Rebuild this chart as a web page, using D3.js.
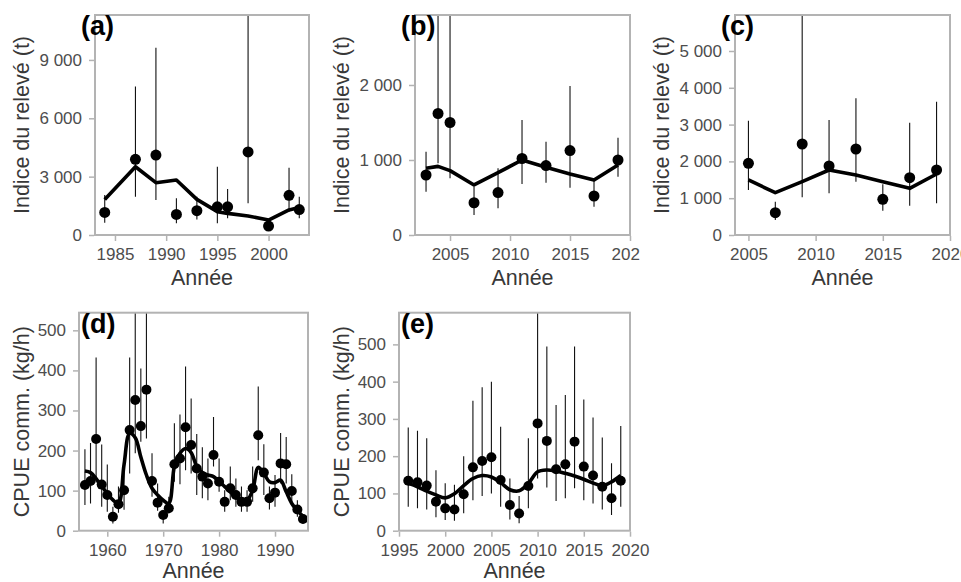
<!DOCTYPE html>
<html>
<head>
<meta charset="utf-8">
<script src="https://cdn.jsdelivr.net/npm/d3@7"></script>
<style>
  body { margin: 0; background: #fff; }
  text { font-family: "Liberation Sans", Arial, Helvetica, sans-serif; }
</style>
</head>
<body>
<svg id="fig" width="961" height="582"></svg>
<script>
// ---- (a) survey index, early series (t)
const aYears = [1984, 1987, 1989, 1991, 1993, 1995, 1996, 1998, 2000, 2002, 2003];
const aIndex = [1160, 3890, 4110, 1060, 1250, 1450, 1450, 4270, 460, 2040, 1310];
const aLow   = [630, 1970, 1800, 600, 800, 600, 860, 1630, 250, 1200, 860];
const aHigh  = [2060, 7630, 9630, 1890, 1970, 3510, 2370, 12500, 780, 3460, 1970];
const aFit   = [1830, 3510, 2690, 2830, 1830, 1200, 1110, 980, 770, 1290, 1420];
const aXTicks = [1985, 1990, 1995, 2000];
const aYTicks = [0, 3000, 6000, 9000];

// ---- (b) survey index, recent series (t)
const bYears = [2003, 2004, 2005, 2007, 2009, 2011, 2013, 2015, 2017, 2019];
const bIndex = [800, 1620, 1500, 430, 565, 1020, 925, 1125, 520, 1000];
const bLow   = [578, 956, 756, 267, 356, 680, 698, 631, 378, 778];
const bHigh  = [1111, 3400, 3700, 644, 889, 1533, 1244, 1987, 733, 1298];
const bFit   = [889, 915, 858, 667, 831, 1000, 902, 813, 733, 933];
const bXTicks = [2005, 2010, 2015, 2020];
const bYTicks = [0, 1000, 2000];

// ---- (c) survey index, second recent series (t)
const cYears = [2005, 2007, 2009, 2011, 2013, 2015, 2017, 2019];
const cIndex = [1947, 607, 2473, 1875, 2337, 969, 1558, 1766];
const cLow   = [1223, 408, 1024, 1132, 1449, 661, 797, 860];
const cHigh  = [3107, 906, 6600, 3125, 3714, 1377, 3052, 3623];
const cFit   = [1495, 1150, 1449, 1766, 1630, 1449, 1268, 1658];
const cXTicks = [2005, 2010, 2015, 2020];
const cYTicks = [0, 1000, 2000, 3000, 4000, 5000];

// ---- (d) commercial CPUE, 1956-1995 (kg/h)
const dYears = [1956, 1957, 1958, 1959, 1960, 1961, 1962, 1963, 1964, 1965,
                1966, 1967, 1968, 1969, 1970, 1971, 1972, 1973, 1974, 1975,
                1976, 1977, 1978, 1979, 1980, 1981, 1982, 1983, 1984, 1985,
                1986, 1987, 1988, 1989, 1990, 1991, 1992, 1993, 1994, 1995];
const dCpue  = [114, 124, 229, 115, 89, 35, 66, 101, 251, 326,
                261, 352, 124, 70, 39, 56, 166, 180, 258, 214,
                155, 135, 118, 189, 122, 72, 106, 89, 72, 72,
                106, 238, 145, 81, 95, 168, 166, 99, 53, 29];
const dLow   = [64, 68, 120, 60, 47, 18, 45, 52, 143, 193,
                222, 230, 85, 50, 18, 43, 122, 116, 151, 143,
                89, 81, 76, 160, 97, 47, 76, 60, 47, 47,
                72, 176, 89, 53, 60, 118, 118, 70, 35, 18];
const dHigh  = [203, 219, 432, 215, 165, 60, 110, 151, 432, 640,
                405, 600, 193, 118, 52, 85, 268, 290, 410, 330,
                241, 208, 180, 284, 180, 101, 160, 130, 110, 101,
                160, 360, 216, 110, 139, 244, 234, 141, 76, 39];
const dFit   = [149, 145, 130, 111, 93, 77, 68, 165, 243, 232,
                184, 139, 106, 89, 76, 68, 160, 193, 205, 195,
                160, 145, 139, 135, 122, 110, 97, 85, 75, 76,
                101, 158, 143, 122, 120, 126, 97, 68, 50, 36];
const dXTicks = [1960, 1970, 1980, 1990];
const dYTicks = [0, 100, 200, 300, 400, 500];

// ---- (e) commercial CPUE, 1996-2019 (kg/h)
const eYears = [1996, 1997, 1998, 1999, 2000, 2001, 2002, 2003, 2004, 2005, 2006, 2007,
                2008, 2009, 2010, 2011, 2012, 2013, 2014, 2015, 2016, 2017, 2018, 2019];
const eCpue  = [134, 130, 121, 78, 60, 57, 98, 170, 187, 197, 136, 69,
                46, 120, 288, 241, 165, 178, 239, 172, 148, 118, 87, 134];
const eLow   = [64, 60, 57, 36, 29, 27, 47, 82, 93, 100, 64, 30,
                20, 60, 140, 116, 80, 87, 114, 82, 73, 57, 42, 64];
const eHigh  = [277, 268, 248, 162, 127, 123, 200, 349, 385, 400, 279, 140,
                93, 248, 640, 494, 337, 364, 494, 352, 304, 250, 181, 281];
const eFit   = [127, 118, 106, 96, 88, 99, 121, 140, 148, 144, 129, 110,
                107, 127, 158, 163, 160, 154, 147, 138, 128, 121, 131, 148];
const eXTicks = [1995, 2000, 2005, 2010, 2015, 2020];
const eYTicks = [0, 100, 200, 300, 400, 500];

const yTitleIndex = "Indice du relevé (t)";
const yTitleCpue = "CPUE comm. (kg/h)";
const xTitle = "Année";

// French number format: "3 000"
const fr = d3.formatLocale({ decimal: ",", thousands: "\u00a0", grouping: [3], currency: ["", " €"] });
const fmt = fr.format(",");

const panels = [
  { id: "a", tag: "(a)", years: aYears, est: aIndex, lo: aLow, hi: aHigh, fit: aFit,
    xTicks: aXTicks, yTicks: aYTicks, yTitle: yTitleIndex,
    xDomain: [1983.05, 2003.95], yMax: 11310,
    box: { x0: 95, x1: 309, y0: 15, y1: 235 }, cell: [0, 0, 320, 290], titleGap: 50,
    curve: d3.curveLinear, r: 5.5 },
  { id: "b", tag: "(b)", years: bYears, est: bIndex, lo: bLow, hi: bHigh, fit: bFit,
    xTicks: bXTicks, yTicks: bYTicks, yTitle: yTitleIndex,
    xDomain: [2002.08, 2020], yMax: 2933,
    box: { x0: 415, x1: 630, y0: 15, y1: 235 }, cell: [320, 0, 320, 290], titleGap: 50,
    curve: d3.curveLinear, r: 5.5 },
  { id: "c", tag: "(c)", years: cYears, est: cIndex, lo: cLow, hi: cHigh, fit: cFit,
    xTicks: cXTicks, yTicks: cYTicks, yTitle: yTitleIndex,
    xDomain: [2004, 2020], yMax: 5978,
    box: { x0: 735, x1: 950, y0: 15, y1: 235 }, cell: [640, 0, 321, 290], titleGap: 50,
    curve: d3.curveLinear, r: 5.5 },
  { id: "d", tag: "(d)", years: dYears, est: dCpue, lo: dLow, hi: dHigh, fit: dFit,
    xTicks: dXTicks, yTicks: dYTicks, yTitle: yTitleCpue,
    xDomain: [1954.94, 1995.9], yMax: 544,
    box: { x0: 79, x1: 308, y0: 312.7, y1: 530.7 }, cell: [0, 290, 320, 292], titleGap: 47,
    curve: d3.curveCatmullRom.alpha(0.5), r: 5 },
  { id: "e", tag: "(e)", years: eYears, est: eCpue, lo: eLow, hi: eHigh, fit: eFit,
    xTicks: eXTicks, yTicks: eYTicks, yTitle: yTitleCpue,
    xDomain: [1995, 2020], yMax: 585,
    box: { x0: 399, x1: 630, y0: 312.7, y1: 530.7 }, cell: [320, 290, 340, 292], titleGap: 47,
    curve: d3.curveCatmullRom.alpha(0.5), r: 5 }
];

const svg = d3.select("#fig");
const defs = svg.append("defs");
const tickColor = "#b3b3b3";
const labelColor = "#4d4d4d";
const titleColor = "#383838";

panels.forEach(p => {
  const { x0, x1, y0, y1 } = p.box;
  const [cx, cy, cw, ch] = p.cell;

  defs.append("clipPath").attr("id", "cell-" + p.id)
    .append("rect").attr("x", cx).attr("y", cy).attr("width", cw).attr("height", ch);
  defs.append("clipPath").attr("id", "plot-" + p.id)
    .append("rect").attr("x", x0).attr("y", y0).attr("width", x1 - x0).attr("height", y1 - y0);

  const g = svg.append("g").attr("clip-path", `url(#cell-${p.id})`);
  g.append("rect").attr("x", cx).attr("y", cy).attr("width", cw).attr("height", ch).attr("fill", "#fff");

  const x = d3.scaleLinear().domain(p.xDomain).range([x0, x1]);
  const y = d3.scaleLinear().domain([0, p.yMax]).range([y1, y0]);

  const rows = p.years.map((yr, i) => ({ yr, est: p.est[i], lo: p.lo[i], hi: p.hi[i], fit: p.fit[i] }));

  const plot = g.append("g").attr("clip-path", `url(#plot-${p.id})`);

  // interval bars
  plot.selectAll("line.err").data(rows).join("line")
    .attr("class", "err")
    .attr("x1", d => x(d.yr)).attr("x2", d => x(d.yr))
    .attr("y1", d => y(d.lo)).attr("y2", d => y(d.hi))
    .attr("stroke", "#111").attr("stroke-width", 1.1);

  // fitted trend
  plot.append("path").datum(rows)
    .attr("d", d3.line().x(d => x(d.yr)).y(d => y(d.fit)).curve(p.curve))
    .attr("fill", "none").attr("stroke", "#000").attr("stroke-width", 3.6)
    .attr("stroke-linejoin", "round").attr("stroke-linecap", "butt");

  // observed points
  plot.selectAll("circle").data(rows).join("circle")
    .attr("cx", d => x(d.yr)).attr("cy", d => y(d.est)).attr("r", p.r)
    .attr("fill", "#000");

  // panel border
  g.append("rect").attr("x", x0).attr("y", y0).attr("width", x1 - x0).attr("height", y1 - y0)
    .attr("fill", "none").attr("stroke", tickColor).attr("stroke-width", 2);

  // axes
  const yAxis = d3.axisLeft(y).tickValues(p.yTicks).tickFormat(fmt).tickSize(5).tickPadding(7);
  const xAxis = d3.axisBottom(x).tickValues(p.xTicks).tickFormat(d3.format("d")).tickSize(5).tickPadding(7);

  const ya = g.append("g").attr("transform", `translate(${x0 - 1},0)`).call(yAxis);
  const xa = g.append("g").attr("transform", `translate(0,${y1 + 1})`).call(xAxis);
  [ya, xa].forEach(a => {
    a.select(".domain").remove();
    a.selectAll(".tick line").attr("stroke", tickColor).attr("stroke-width", 1.5);
    a.selectAll(".tick text").attr("fill", labelColor).style("font-size", "17px");
  });

  // axis titles
  g.append("text")
    .attr("transform", `translate(${cx + 29},${(y0 + y1) / 2}) rotate(-90)`)
    .attr("text-anchor", "middle").attr("fill", titleColor)
    .style("font-size", "21.5px").text(p.yTitle);
  g.append("text")
    .attr("x", (x0 + x1) / 2).attr("y", y1 + p.titleGap)
    .attr("text-anchor", "middle").attr("fill", titleColor)
    .style("font-size", "21.5px").text(xTitle);

  // panel tag
  g.append("text")
    .attr("x", cx + 81).attr("y", y0 + 20)
    .attr("fill", "#000").style("font-size", "27px").style("font-weight", "bold")
    .text(p.tag);
});
</script>
</body>
</html>
